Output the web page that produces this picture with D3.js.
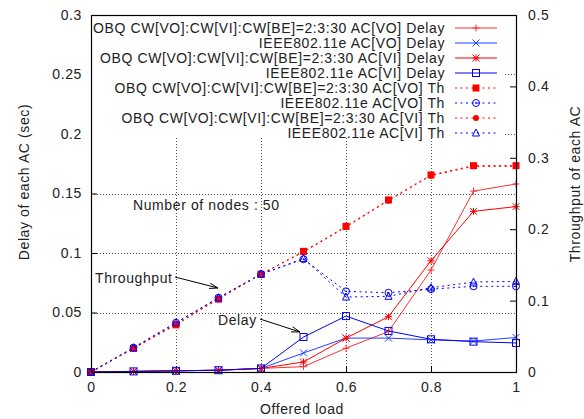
<!DOCTYPE html>
<html>
<head>
<meta charset="utf-8">
<script src="https://cdn.jsdelivr.net/npm/d3@7"></script>
<style>
  html, body { margin: 0; padding: 0; background: #fff; }
  svg { display: block; font-family: "Liberation Sans", Arial, Helvetica, sans-serif; }
  svg text { letter-spacing: 0.6px; }
</style>
</head>
<body>
<svg id="chart" width="584" height="419"></svg>
<script>
// Offered load (x axis)
const loads = [0, 0.1, 0.2, 0.3, 0.4, 0.5, 0.6, 0.7, 0.8, 0.9, 1.0];

// Delay of each AC (sec) — left axis
const obqVoDelay  = [0, 0.0005, 0.001, 0.0015, 0.003, 0.0045, 0.020, 0.034, 0.0857, 0.152, 0.158];
const ieeeVoDelay = [0, 0.0005, 0.001, 0.0015, 0.003, 0.016, 0.0285, 0.0285, 0.027, 0.026, 0.029];
const obqViDelay  = [0, 0.0005, 0.001, 0.0015, 0.003, 0.0084, 0.0285, 0.0465, 0.0935, 0.135, 0.139];
const ieeeViDelay = [0, 0.0005, 0.001, 0.0015, 0.003, 0.0294, 0.047, 0.0345, 0.0275, 0.0255, 0.0244];

// Throughput of each AC — right axis
const obqVoTh  = [0, 0.033, 0.066, 0.102, 0.137, 0.169, 0.204, 0.241, 0.276, 0.289, 0.289];
const ieeeVoTh = [0, 0.034, 0.069, 0.104, 0.137, 0.158, 0.113, 0.111, 0.116, 0.120, 0.120];
const obqViTh  = [0, 0.033, 0.067, 0.103, 0.137, 0.168, 0.203, 0.240, 0.275, 0.288, 0.288];
const ieeeViTh = [0, 0.034, 0.069, 0.104, 0.137, 0.159, 0.105, 0.106, 0.118, 0.126, 0.127];

// Tick values
const xTicks  = [0, 0.2, 0.4, 0.6, 0.8, 1];
const yTicks  = [0, 0.05, 0.1, 0.15, 0.2, 0.25, 0.3];
const y2Ticks = [0, 0.1, 0.2, 0.3, 0.4, 0.5];

const seriesNames = [
  "OBQ CW[VO]:CW[VI]:CW[BE]=2:3:30 AC[VO] Delay",
  "IEEE802.11e AC[VO] Delay",
  "OBQ CW[VO]:CW[VI]:CW[BE]=2:3:30 AC[VI] Delay",
  "IEEE802.11e AC[VI] Delay",
  "OBQ CW[VO]:CW[VI]:CW[BE]=2:3:30 AC[VO] Th",
  "IEEE802.11e AC[VO] Th",
  "OBQ CW[VO]:CW[VI]:CW[BE]=2:3:30 AC[VI] Th",
  "IEEE802.11e AC[VI] Th"
];

const W = 584, H = 419;
const L = 91, R = 516, T = 15, B = 372;

const x  = d3.scaleLinear().domain([0, 1]).range([L, R]);
const y  = d3.scaleLinear().domain([0, 0.3]).range([B, T]);
const y2 = d3.scaleLinear().domain([0, 0.5]).range([B, T]);

const series = [
  { name: seriesNames[0], vals: obqVoDelay,  sc: y,  color: "#ff3030", dash: null,  marker: "plus" },
  { name: seriesNames[1], vals: ieeeVoDelay, sc: y,  color: "#2040ff", dash: null,  marker: "cross" },
  { name: seriesNames[2], vals: obqViDelay,  sc: y,  color: "#ff0000", dash: null,  marker: "star" },
  { name: seriesNames[3], vals: ieeeViDelay, sc: y,  color: "#0000ee", dash: null,  marker: "square" },
  { name: seriesNames[4], vals: obqVoTh,     sc: y2, color: "#ff0000", dash: "2,3.5", marker: "fsquare" },
  { name: seriesNames[5], vals: ieeeVoTh,    sc: y2, color: "#0000ff", dash: "2,3.5", marker: "dcircle" },
  { name: seriesNames[6], vals: obqViTh,     sc: y2, color: "#ff0000", dash: "2,3.5", marker: "fcircle" },
  { name: seriesNames[7], vals: ieeeViTh,    sc: y2, color: "#0000ff", dash: "2,3.5", marker: "triangle" }
];

const svg = d3.select("#chart");
const FS = 14;

// Grid
const grid = svg.append("g").attr("stroke", "#555").attr("stroke-width", 1)
  .attr("stroke-dasharray", "1,2").attr("shape-rendering", "crispEdges");
xTicks.filter(v => v > 0 && v < 1).forEach(v => {
  grid.append("line").attr("x1", Math.round(x(v)) + 0.5).attr("x2", Math.round(x(v)) + 0.5)
    .attr("y1", T).attr("y2", B);
});
yTicks.filter(v => v > 0 && v < 0.3).forEach(v => {
  grid.append("line").attr("y1", Math.round(y(v)) + 0.5).attr("y2", Math.round(y(v)) + 0.5)
    .attr("x1", L).attr("x2", R);
});

// Axes (ticks point inward, x ticks mirrored on top)
const axisG = svg.append("g").attr("font-size", FS).attr("font-family", "Liberation Sans, Arial, sans-serif");

const xAxis = axisG.append("g").attr("transform", `translate(0,${B})`)
  .call(d3.axisBottom(x).tickValues(xTicks).tickFormat(d3.format("")).tickSizeInner(-6).tickSizeOuter(0).tickPadding(10));
const xAxisTop = axisG.append("g").attr("transform", `translate(0,${T})`)
  .call(d3.axisTop(x).tickValues(xTicks).tickFormat("").tickSizeInner(-6).tickSizeOuter(0));
const yAxis = axisG.append("g").attr("transform", `translate(${L},0)`)
  .call(d3.axisLeft(y).tickValues(yTicks).tickFormat(d3.format("")).tickSizeInner(-6).tickSizeOuter(0).tickPadding(9));
const y2Axis = axisG.append("g").attr("transform", `translate(${R},0)`)
  .call(d3.axisRight(y2).tickValues(y2Ticks).tickFormat(d3.format("")).tickSizeInner(-6).tickSizeOuter(0).tickPadding(12));

[xAxis, xAxisTop, yAxis, y2Axis].forEach(g => {
  g.select(".domain").remove();
  g.selectAll("line").attr("stroke", "#000");
  g.selectAll("text").attr("fill", "#222").attr("font-size", FS);
});

// Key box (opaque) hides grid beneath it
const keyRight = 505, keyBottom = 138;
svg.append("rect").attr("x", L + 1).attr("y", T + 1)
  .attr("width", keyRight - L - 1).attr("height", keyBottom - T - 1).attr("fill", "#fff");

// Marker drawing
function drawMarker(g, type, cx, cy, color) {
  const s = 3.5;
  const m = g.append("g").attr("transform", `translate(${cx},${cy})`)
    .attr("stroke", color).attr("stroke-width", 1).attr("fill", "none");
  if (type === "plus" || type === "star") {
    m.append("line").attr("x1", -s).attr("x2", s).attr("y1", 0).attr("y2", 0);
    m.append("line").attr("x1", 0).attr("x2", 0).attr("y1", -s).attr("y2", s);
  }
  if (type === "cross" || type === "star") {
    m.append("line").attr("x1", -s).attr("x2", s).attr("y1", -s).attr("y2", s);
    m.append("line").attr("x1", -s).attr("x2", s).attr("y1", s).attr("y2", -s);
  }
  if (type === "square") {
    m.append("rect").attr("x", -s).attr("y", -s).attr("width", 2 * s).attr("height", 2 * s);
  }
  if (type === "fsquare") {
    m.append("rect").attr("x", -s).attr("y", -s).attr("width", 2 * s).attr("height", 2 * s)
      .attr("fill", color).attr("stroke", "none");
  }
  if (type === "dcircle") {
    m.append("circle").attr("r", s);
    m.append("circle").attr("r", 0.9).attr("fill", color).attr("stroke", "none");
  }
  if (type === "fcircle") {
    m.append("circle").attr("r", 3).attr("fill", color).attr("stroke", "none");
  }
  if (type === "triangle") {
    m.append("path").attr("d", `M0,${-s - 0.5}L${s},${s - 0.5}L${-s},${s - 0.5}Z`);
  }
}

// Series lines and points
const plot = svg.append("g");
series.forEach(sr => {
  const line = d3.line().x((d, i) => x(loads[i])).y(d => sr.sc(d));
  plot.append("path").datum(sr.vals).attr("d", line)
    .attr("fill", "none").attr("stroke", sr.color).attr("stroke-width", 1)
    .attr("stroke-dasharray", sr.dash);
  sr.vals.forEach((v, i) => drawMarker(plot, sr.marker, x(loads[i]), sr.sc(v), sr.color));
});

// Border
svg.append("rect").attr("x", L + 0.5).attr("y", T + 0.5).attr("width", R - L).attr("height", B - T)
  .attr("fill", "none").attr("stroke", "#000").attr("stroke-width", 1.2);

// Key
const key = svg.append("g").attr("font-size", FS);
series.forEach((sr, i) => {
  const cy = 28 + i * 15;
  key.append("text").attr("x", 445).attr("y", cy + 5).attr("text-anchor", "end")
    .attr("fill", "#222").text(sr.name);
  key.append("line").attr("x1", 455).attr("x2", 497).attr("y1", cy).attr("y2", cy)
    .attr("stroke", sr.color).attr("stroke-width", 1).attr("stroke-dasharray", sr.dash);
  drawMarker(key, sr.marker, 476, cy, sr.color);
});

// Annotations
const ann = svg.append("g").attr("font-size", FS).attr("fill", "#222");
ann.append("text").attr("x", 133).attr("y", 210).text("Number of nodes : 50");
ann.append("text").attr("x", 95).attr("y", 283).text("Throughput");
ann.append("text").attr("x", 218).attr("y", 325).text("Delay");

function arrow(x1, y1, x2, y2) {
  const g = svg.append("g").attr("stroke", "#000").attr("stroke-width", 1).attr("fill", "none");
  g.append("line").attr("x1", x1).attr("y1", y1).attr("x2", x2).attr("y2", y2);
  const a = Math.atan2(y2 - y1, x2 - x1), len = 9, spread = 0.3;
  const p1 = [x2 - len * Math.cos(a - spread), y2 - len * Math.sin(a - spread)];
  const p2 = [x2 - len * Math.cos(a + spread), y2 - len * Math.sin(a + spread)];
  g.append("path").attr("d", `M${p1[0]},${p1[1]}L${x2},${y2}L${p2[0]},${p2[1]}`);
}
arrow(175, 277, 218, 288);
arrow(260, 319, 300, 332);

// Axis titles
const titles = svg.append("g").attr("font-size", FS).attr("fill", "#222").attr("text-anchor", "middle");
titles.append("text").attr("transform", "translate(29,182) rotate(-90)").text("Delay of each AC (sec)");
titles.append("text").attr("transform", "translate(580,184) rotate(-90)").text("Throughput of each AC");
titles.append("text").attr("x", 302).attr("y", 414).text("Offered load");
</script>
</body>
</html>
